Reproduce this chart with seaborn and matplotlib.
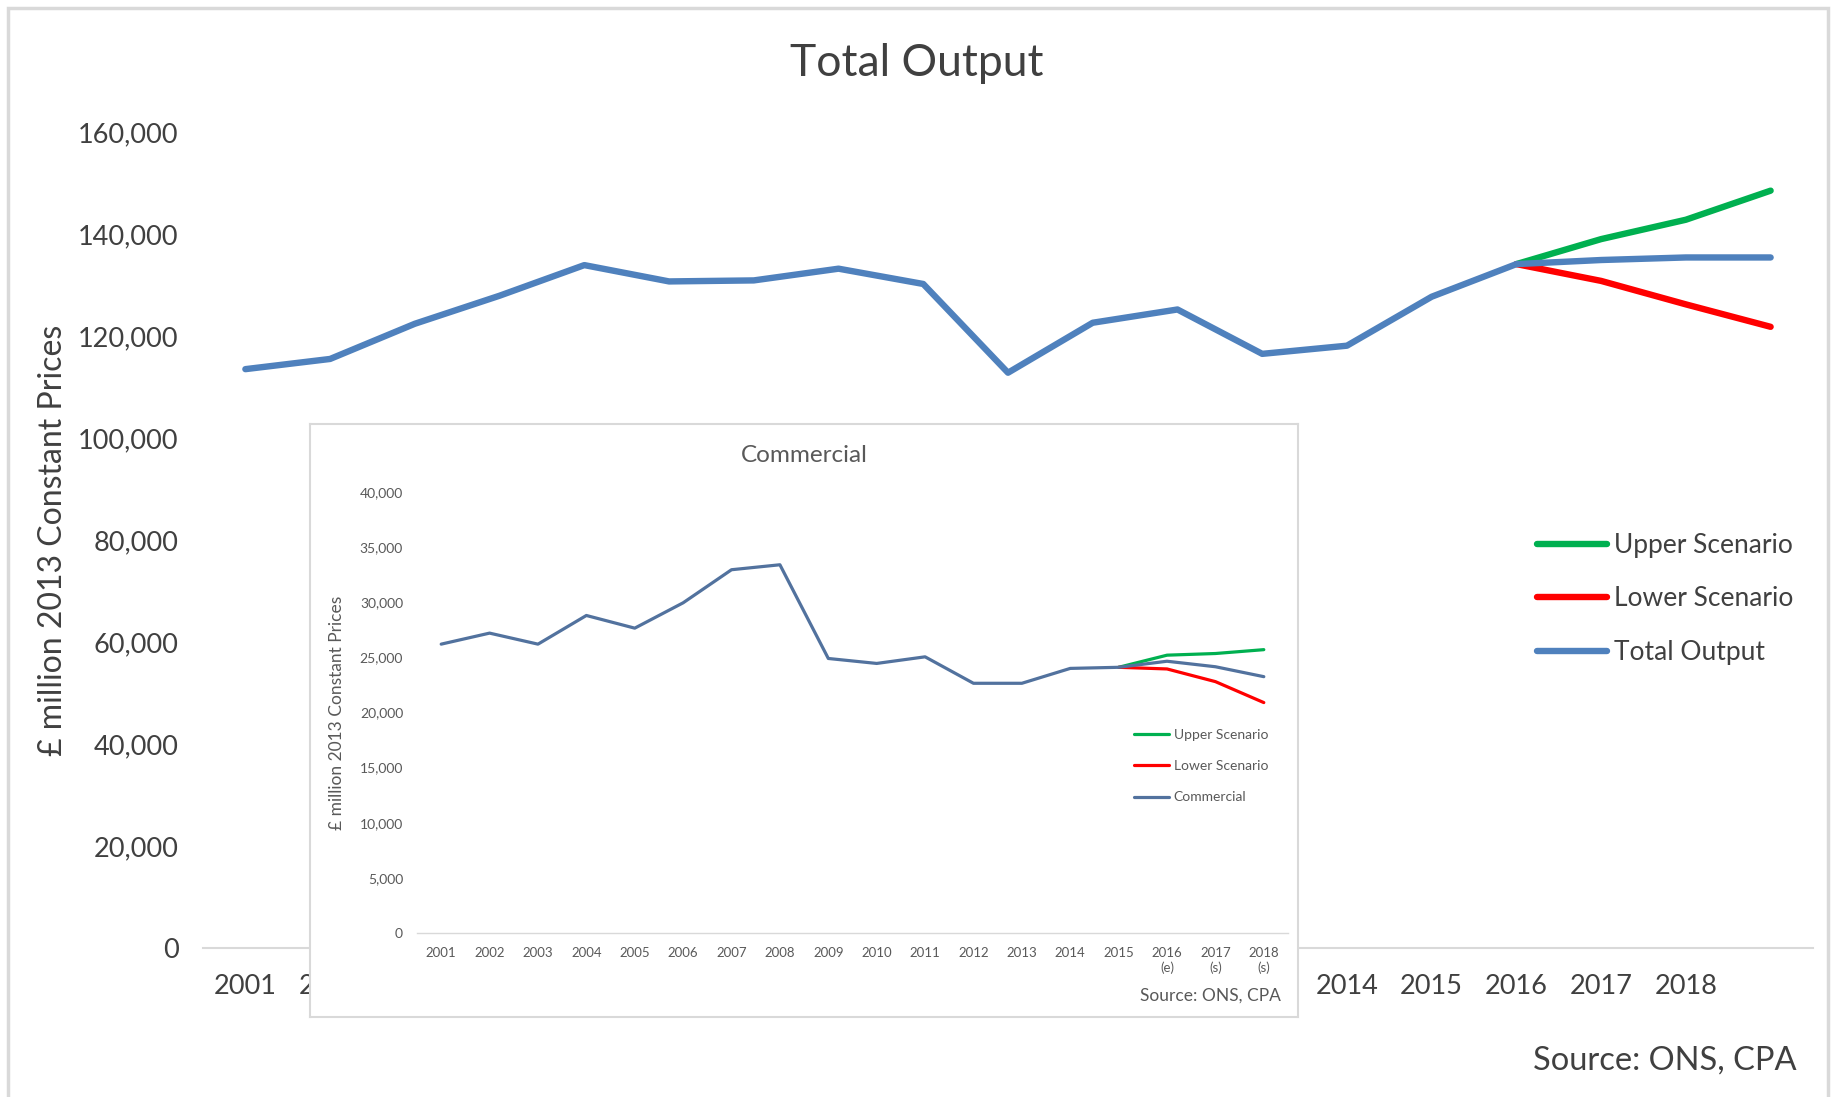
import numpy as np
import pandas as pd
import matplotlib
matplotlib.use("Agg")
import matplotlib.pyplot as plt
import seaborn as sns
from matplotlib.patches import Rectangle

# ---- Total output (main chart), £ million 2013 constant prices ----
main_labels = ["2001", "2002", "2003", "2004", "2005", "2006", "2007", "2008",
               "2009", "2010", "2011", "2012", "2013", "2014", "2015", "2016",
               "2017", "2018", ""]
total_output = [113500, 115500, 122400, 127900, 133900, 130700, 130900, 133200,
                130200, 112800, 122600, 125200, 116500, 118100, 127700, 134100,
                134900, 135400, 135400]
upper_total = [np.nan] * 15 + [134100, 139000, 142800, 148500]
lower_total = [np.nan] * 15 + [134100, 130800, 126200, 121800]
main_yticks = [0, 20000, 40000, 60000, 80000, 100000, 120000, 140000, 160000]
main_ytick_labels = ["0", "20,000", "40,000", "60,000", "80,000", "100,000",
                     "120,000", "140,000", "160,000"]

# ---- Commercial (inset chart) ----
inset_labels = ["2001", "2002", "2003", "2004", "2005", "2006", "2007", "2008",
                "2009", "2010", "2011", "2012", "2013", "2014", "2015",
                "2016\n(e)", "2017\n(s)", "2018\n(s)"]
commercial = [26200, 27200, 26200, 28800, 27650, 29950, 32950, 33400, 24900,
              24450, 25050, 22650, 22650, 24000, 24100, 24650, 24150, 23250]
upper_comm = [np.nan] * 14 + [24100, 25200, 25350, 25700]
lower_comm = [np.nan] * 14 + [24100, 23950, 22800, 20900]
inset_yticks = [0, 5000, 10000, 15000, 20000, 25000, 30000, 35000, 40000]
inset_ytick_labels = ["0", "5,000", "10,000", "15,000", "20,000", "25,000",
                      "30,000", "35,000", "40,000"]

GREEN, RED, BLUE, SLATE = "#00B050", "#FF0000", "#4F81BD", "#52729E"
TEXT, TEXT_IN, GRID = "#404040", "#595959", "#D9D9D9"

sns.set_style("white")
plt.rcParams["font.family"] = ["Lato", "DejaVu Sans"]

W, H = 1833, 1097
fig = plt.figure(figsize=(W / 100, H / 100), dpi=100)


def box(x0, y0, x1, y1):
    """Figure-fraction rectangle from pixel corners (top-left origin)."""
    return [x0 / W, 1 - y1 / H, (x1 - x0) / W, (y1 - y0) / H]


# outer chart border
fig.patches.append(Rectangle((8 / W, -0.02), (1828 - 8) / W, 1.02 - 8 / H,
                             transform=fig.transFigure, fill=False,
                             edgecolor=GRID, linewidth=2.5))

# ---------------- main chart ----------------
ax = fig.add_axes(box(203, 132, 1813, 948))
series_main = ["Upper Scenario", "Lower Scenario", "Total Output"]
df_main = pd.DataFrame({
    "pos": np.arange(len(main_labels)),
    "Upper Scenario": upper_total,
    "Lower Scenario": lower_total,
    "Total Output": total_output,
}).melt(id_vars="pos", var_name="series", value_name="value").dropna()

sns.lineplot(data=df_main, x="pos", y="value", hue="series",
             hue_order=series_main, palette=[GREEN, RED, BLUE],
             linewidth=4.6, errorbar=None, ax=ax,
             solid_capstyle="round", solid_joinstyle="round")

ax.set_xlim(-0.5, len(main_labels) - 0.5)
ax.set_ylim(0, 160000)
ax.set_xticks(range(len(main_labels)))
ax.set_xticklabels(main_labels)
ax.set_yticks(main_yticks)
ax.set_yticklabels(main_ytick_labels)
ax.tick_params(axis="both", length=0, labelsize=19.5, colors=TEXT)
ax.tick_params(axis="y", pad=17.5)
ax.tick_params(axis="x", pad=19)
# year labels 2003-2013 sit entirely behind the Commercial inset
for lbl in ax.get_xticklabels()[2:13]:
    lbl.set_visible(False)
for side in ("left", "right", "top"):
    ax.spines[side].set_visible(False)
ax.spines["bottom"].set_color(GRID)
ax.spines["bottom"].set_linewidth(1.5)
ax.set_xlabel("")
ax.set_ylabel("£ million 2013 Constant Prices", fontsize=23, color=TEXT,
              va="center")
ax.yaxis.set_label_coords(-0.0932, 0.5)

sns.move_legend(ax, "center left", bbox_to_anchor=(1537 / W, 1 - 599 / H),
                bbox_transform=fig.transFigure, frameon=False, title=None,
                fontsize=19, labelcolor=TEXT, handlelength=2.65,
                handletextpad=0.27, labelspacing=1.08, borderpad=0,
                borderaxespad=0)
for line in ax.get_legend().get_lines():
    line.set_linewidth(4.6)
    line.set_solid_capstyle("round")

fig.text(916.5 / W, 1 - 76 / H, "Total Output", ha="center", va="baseline",
         fontsize=32, color=TEXT)
fig.text(1797 / W, 1 - 1070 / H, "Source: ONS, CPA", ha="right",
         va="baseline", fontsize=23.5, color=TEXT)

# ---------------- inset chart ----------------
axf = fig.add_axes(box(310, 424, 1298, 1017))
axf.set_zorder(2)
axf.set_facecolor("white")
axf.set_xticks([])
axf.set_yticks([])
for sp in axf.spines.values():
    sp.set_color(GRID)
    sp.set_linewidth(1.5)
axf.text(0.5, 1 - (462 - 424) / 593, "Commercial", transform=axf.transAxes,
         ha="center", va="baseline", fontsize=17.5, color=TEXT_IN)
axf.text((1281 - 310) / 988, (1017 - 1001) / 593, "Source: ONS, CPA",
         transform=axf.transAxes, ha="right", va="baseline", fontsize=12.5,
         color=TEXT_IN)

ax_in = fig.add_axes(box(417, 492, 1288, 933))
ax_in.set_zorder(3)
ax_in.patch.set_alpha(0)
series_in = ["Upper Scenario", "Lower Scenario", "Commercial"]
df_in = pd.DataFrame({
    "pos": np.arange(len(inset_labels)),
    "Upper Scenario": upper_comm,
    "Lower Scenario": lower_comm,
    "Commercial": commercial,
}).melt(id_vars="pos", var_name="series", value_name="value").dropna()

sns.lineplot(data=df_in, x="pos", y="value", hue="series",
             hue_order=series_in, palette=[GREEN, RED, SLATE],
             linewidth=2.3, errorbar=None, ax=ax_in,
             solid_capstyle="round", solid_joinstyle="round")

ax_in.set_xlim(-0.5, len(inset_labels) - 0.5)
ax_in.set_ylim(0, 40000)
ax_in.set_xticks(range(len(inset_labels)))
ax_in.set_xticklabels(inset_labels, linespacing=1.25)
ax_in.set_yticks(inset_yticks)
ax_in.set_yticklabels(inset_ytick_labels)
ax_in.tick_params(axis="both", length=0, colors=TEXT_IN)
ax_in.tick_params(axis="x", labelsize=9.5, pad=10)
ax_in.tick_params(axis="y", labelsize=10, pad=10)
for side in ("left", "right", "top"):
    ax_in.spines[side].set_visible(False)
ax_in.spines["bottom"].set_color(GRID)
ax_in.spines["bottom"].set_linewidth(1.0)
ax_in.set_xlabel("")
ax_in.set_ylabel("£ million 2013 Constant Prices", fontsize=12.5,
                 color=TEXT_IN, va="center")
ax_in.yaxis.set_label_coords(-0.0918, 0.5)

sns.move_legend(ax_in, "center left", bbox_to_anchor=(1134 / W, 1 - 766 / H),
                bbox_transform=fig.transFigure, frameon=False, title=None,
                fontsize=10, labelcolor=TEXT_IN, handlelength=2.5,
                handletextpad=0.35, labelspacing=1.4, borderpad=0,
                borderaxespad=0)
for line in ax_in.get_legend().get_lines():
    line.set_linewidth(2.3)

fig.savefig("out.png", dpi=100)
